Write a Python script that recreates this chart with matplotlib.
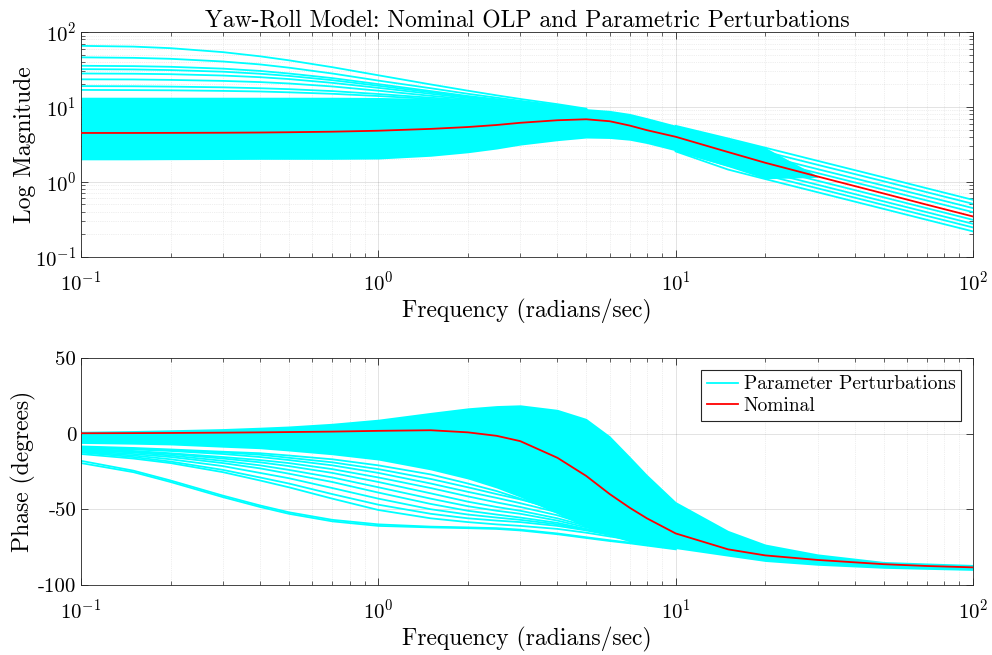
import matplotlib
matplotlib.use('Agg')
import matplotlib.pyplot as plt
from matplotlib.ticker import LogLocator, NullFormatter, FixedLocator, FixedFormatter

plt.rcParams['font.family'] = 'serif'
plt.rcParams['font.serif'] = ['cmr10']
plt.rcParams['mathtext.fontset'] = 'cm'
plt.rcParams['axes.formatter.use_mathtext'] = True
plt.rcParams['axes.unicode_minus'] = False

# frequency grid (rad/s) the curves were read at
freq = [0.1, 0.15, 0.2, 0.3, 0.4, 0.5, 0.7, 1, 1.5, 2, 2.5, 3, 4, 5, 6, 7, 8,
        10, 15, 20, 30, 50, 70, 100]

# ---- magnitude ----
mag_nominal = [4.50, 4.50, 4.51, 4.53, 4.56, 4.60, 4.68, 4.82, 5.10, 5.40, 5.75,
               6.15, 6.65, 6.85, 6.45, 5.65, 4.90, 4.00, 2.50, 1.80, 1.18, 0.70,
               0.495, 0.345]
# dense envelope of the perturbed set (0.1 .. 30 rad/s)
mag_band_hi = [13.5, 13.5, 13.5, 13.5, 13.5, 13.5, 13.5, 13.4, 13.0, 12.5, 11.9,
               11.2, 10.2, 9.5, 9.0, 8.2, 7.2, 5.7, 3.8, 2.88, 1.2]
mag_band_lo = [1.97, 1.97, 1.98, 1.99, 2.0, 2.0, 2.0, 2.02, 2.2, 2.45, 2.75,
               3.1, 3.55, 3.85, 3.8, 3.6, 3.25, 2.6, 1.6, 1.1, 1.15]
# high gain cases at low frequency (0.1 .. 5 rad/s)
mag_low_a = [65.5, 64, 61, 54, 47.5, 42, 34, 26.5, 20, 16.5, 14.3, 12.8, 10.9, 9.5]
mag_low_b = [46, 45.3, 44, 40.5, 37, 33.5, 28, 22.5, 17.8, 15, 13.3, 12.1, 10.5, 9.3]
mag_low_c = [35.5, 35.1, 34.4, 32.5, 30.3, 28, 24.3, 20.2, 16.3, 14, 12.7, 11.7, 10.3, 9.2]
mag_low_d = [32, 31.7, 31.1, 29.6, 27.8, 26, 22.8, 19.2, 15.7, 13.6, 12.4, 11.5, 10.2, 9.2]
mag_low_e = [28, 27.8, 27.4, 26.3, 25, 23.6, 21, 18, 15, 13.2, 12.1, 11.3, 10.1, 9.2]
mag_low_f = [23.4, 23.3, 23, 22.3, 21.5, 20.6, 18.8, 16.5, 14.1, 12.7, 11.8, 11.1, 10.0, 9.2]
mag_low_g = [19, 18.9, 18.7, 18.3, 17.8, 17.3, 16.3, 14.9, 13.3, 12.3, 11.6, 11.0, 10.0, 9.2]
mag_low_h = [16.9, 16.8, 16.7, 16.4, 16.1, 15.7, 15.0, 14.0, 12.8, 12.0, 11.4, 10.9, 9.9, 9.2]
# high frequency roll-off cases (10 .. 100 rad/s)
mag_hf_1 = [5.6, 3.8, 2.86, 1.91, 1.15, 0.82, 0.575]
mag_hf_2 = [5.0, 3.37, 2.53, 1.69, 1.02, 0.727, 0.509]
mag_hf_3 = [4.4, 2.95, 2.22, 1.48, 0.892, 0.637, 0.446]
mag_hf_4 = [3.9, 2.61, 1.96, 1.31, 0.788, 0.563, 0.394]
mag_hf_5 = [3.15, 2.07, 1.55, 1.035, 0.622, 0.444, 0.311]
mag_hf_6 = [2.8, 1.83, 1.37, 0.915, 0.55, 0.393, 0.275]
mag_hf_7 = [2.6, 1.64, 1.23, 0.82, 0.492, 0.351, 0.246]
mag_hf_8 = [2.55, 1.46, 1.09, 0.727, 0.436, 0.311, 0.218]

# ---- phase (deg) ----
ph_nominal = [0.2, 0.3, 0.4, 0.6, 0.8, 1.0, 1.3, 1.8, 2.2, 0.8, -1.5, -5.0, -16,
              -28, -40, -49, -56, -66, -76.5, -80.5, -83.5, -86.3, -87.5, -88.4]
ph_band_hi = [1.5, 2.0, 2.5, 3.3, 4.2, 5.0, 6.8, 9.5, 14, 17, 18.5, 19, 16, 10,
              -1.5, -15, -27, -45, -64, -73, -79.5, -84.5, -85.5, -86.5]
ph_band_lo = [-6.5, -7, -7.5, -9, -10, -11.5, -14, -17.5, -24, -30, -36, -42, -53,
              -62, -67.5, -71.5, -73, -76, -81, -84.5, -87, -89, -89.7, -90.4]
# lagging cases (0.1 .. 10 rad/s)
ph_lag_1 = [-18.0, -24.5, -31.0, -41.0, -47.5, -52.0, -57.0, -60.0, -61.5, -62.0, -62.5, -63.5, -66.0, -68.5, -70.5, -72.0, -73.5, -76.0]
ph_lag_2 = [-19.5, -25.5, -32.0, -42.0, -48.5, -53.0, -58.0, -61.0, -62.0, -62.5, -63.0, -64.0, -66.5, -69.0, -71.0, -72.5, -74.0, -76.5]
ph_lag_3 = [-12.5, -15.5, -18.5, -24.0, -29.0, -33.0, -40.0, -47.0, -53.0, -56.0, -57.5, -58.5, -61.0, -64.0, -67.0, -69.5, -71.5, -75.0]
ph_lag_4 = [-12.0, -14.5, -17.0, -21.5, -26.0, -29.5, -36.0, -43.0, -50.0, -53.5, -55.5, -57.0, -60.0, -63.5, -66.5, -69.0, -71.0, -74.5]
ph_lag_5 = [-11.5, -13.5, -15.5, -19.5, -23.0, -26.5, -32.0, -39.0, -46.5, -51.0, -53.5, -55.5, -59.0, -63.0, -66.0, -68.5, -70.5, -74.0]
ph_lag_6 = [-11.0, -12.5, -14.5, -18.0, -21.0, -24.0, -29.0, -35.5, -43.0, -48.0, -51.0, -53.0, -57.5, -62.0, -65.5, -68.0, -70.0, -73.5]
ph_lag_7 = [-10.5, -12.0, -13.5, -16.5, -19.0, -21.5, -26.0, -32.0, -39.5, -45.0, -48.5, -51.0, -56.0, -61.0, -65.0, -67.5, -69.5, -73.0]
ph_lag_8 = [-10.0, -11.5, -13.0, -15.5, -17.5, -19.5, -23.5, -29.0, -36.0, -41.5, -45.5, -48.5, -54.0, -60.0, -64.0, -67.0, -69.0, -72.5]
ph_lag_9 = [-9.5, -10.5, -11.5, -13.5, -15.5, -17.5, -21.0, -26.0, -33.0, -38.5, -42.5, -46.0, -52.0, -58.5, -63.0, -66.0, -68.5, -72.0]
ph_lag_10 = [-9.0, -10.0, -11.0, -12.5, -14.0, -16.0, -19.0, -23.5, -30.0, -35.5, -40.0, -43.5, -50.0, -57.0, -62.0, -65.5, -68.0, -72.0]
ph_lag_11 = [-13.5, -16.5, -19.5, -25.5, -31.0, -35.5, -43.0, -50.5, -56.0, -58.5, -60.0, -61.0, -63.0, -65.5, -68.0, -70.0, -72.0, -75.5]
ph_lag_12 = [-8.5, -9.5, -10.5, -12.0, -13.0, -14.5, -17.0, -21.0, -27.0, -33.0, -38.0, -43.0, -51.0, -58.0, -62.5, -66.0, -68.5, -72.0]

CYAN = '#00ffff'
RED = '#ff0000'

fig = plt.figure(figsize=(9.92, 6.55), dpi=100)
ax1 = fig.add_axes([0.0817, 0.608, 0.8992, 0.343])
ax2 = fig.add_axes([0.0817, 0.107, 0.8992, 0.3466])

# magnitude
n_fill = len(mag_band_hi)
ax1.fill_between(freq[:n_fill], mag_band_lo, mag_band_hi, color=CYAN, lw=0)
for c in [mag_low_a, mag_low_b, mag_low_c, mag_low_d, mag_low_e, mag_low_f, mag_low_g, mag_low_h]:
    ax1.plot(freq[:len(c)], c, color=CYAN, lw=1.3)
for c in [mag_hf_1, mag_hf_2, mag_hf_3, mag_hf_4, mag_hf_5, mag_hf_6, mag_hf_7, mag_hf_8]:
    ax1.plot(freq[-len(c):], c, color=CYAN, lw=1.3)
ax1.plot(freq, mag_nominal, color=RED, lw=1.3, zorder=5)
ax1.set_yscale('log')
ax1.set_ylim(0.1, 100)
ax1.set_ylabel('Log Magnitude', fontsize=17)
ax1.set_title('Yaw-Roll Model: Nominal OLP and Parametric Perturbations', fontsize=17, pad=3)

# phase
ax2.fill_between(freq, ph_band_lo, ph_band_hi, color=CYAN, lw=0)
lags = [ph_lag_1, ph_lag_2, ph_lag_3, ph_lag_4, ph_lag_5, ph_lag_6, ph_lag_7,
        ph_lag_8, ph_lag_9, ph_lag_10, ph_lag_11, ph_lag_12]
for i, c in enumerate(lags):
    ax2.plot(freq[:len(c)], c, color=CYAN, lw=1.3,
             label='Parameter Perturbations' if i == 0 else None)
ax2.plot(freq, ph_nominal, color=RED, lw=1.3, zorder=5, label='Nominal')
ax2.set_ylim(-100, 50)
ax2.yaxis.set_major_locator(FixedLocator([-100, -50, 0, 50]))
ax2.yaxis.set_major_formatter(FixedFormatter(['-100', '-50', '0', '50']))
ax2.set_ylabel('Phase (degrees)', fontsize=17)
leg = ax2.legend(loc='upper right', fontsize=14, fancybox=False, framealpha=1,
                 edgecolor='#262626', borderpad=0.3, handlelength=1.6,
                 handletextpad=0.3, labelspacing=0.2, borderaxespad=0.6)
leg.get_frame().set_linewidth(0.8)

for ax in (ax1, ax2):
    ax.set_xscale('log')
    ax.set_xlim(0.1, 100)
    ax.set_xlabel('Frequency (radians/sec)', fontsize=17, labelpad=3)
    ax.xaxis.set_major_locator(LogLocator(base=10, numticks=10))
    ax.xaxis.set_minor_locator(LogLocator(base=10, subs=range(2, 10), numticks=20))
    ax.xaxis.set_minor_formatter(NullFormatter())
    ax.tick_params(which='both', direction='in', top=True, right=True,
                   colors='#262626', labelsize=15, labelcolor='black')
    ax.tick_params(which='major', length=5, width=0.6)
    ax.tick_params(which='minor', length=3, width=0.5)
    ax.tick_params(axis='x', which='major', pad=10)
    ax.grid(True, which='major', color='#262626', alpha=0.15, lw=0.6)
    ax.grid(True, which='minor', color='#262626', alpha=0.15, lw=0.5, ls=':')
    for s in ax.spines.values():
        s.set_color('#262626')
        s.set_linewidth(0.6)
    ax.set_axisbelow(True)
    ax.yaxis.set_label_coords(-0.05, 0.5)

ax1.yaxis.set_minor_locator(LogLocator(base=10, subs=range(2, 10), numticks=20))
ax1.yaxis.set_minor_formatter(NullFormatter())

plt.savefig('out.png', dpi=100)
